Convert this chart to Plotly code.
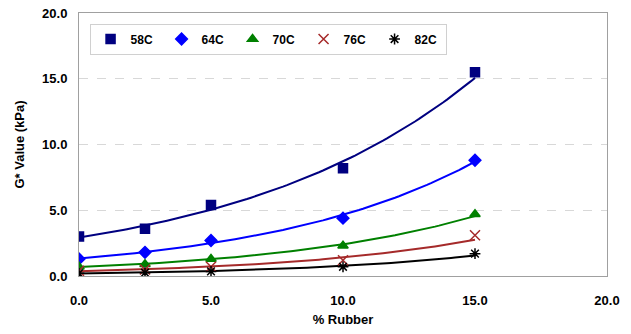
import numpy as np
import plotly.graph_objects as go

rubber = [0, 2.5, 5, 10, 15]
g58 = [3.0, 3.6, 5.4, 8.2, 15.5]
g64 = [1.3, 1.8, 2.7, 4.4, 8.8]
g70 = [0.7, 0.9, 1.3, 2.3, 4.7]
g76 = [0.4, 0.5, 0.7, 1.2, 3.1]
g82 = [0.2, 0.25, 0.35, 0.7, 1.7]

names = ["58C", "64C", "70C", "76C", "82C"]
series = [g58, g64, g70, g76, g82]
colors = ["#000080", "#0000FF", "#008000", "#A52A2A", "#000000"]
symbols = ["square", "diamond", "triangle-up", "x-thin-open", "asterisk-open"]
sizes = [9, 9, 9, 10, 9]

fig = go.Figure()
xs = np.linspace(0, 15, 100)
for name, ys, c in zip(names, series, colors):
    b, a = np.polyfit(rubber, np.log(ys), 1)
    fig.add_trace(go.Scatter(x=xs, y=np.exp(a + b * xs), mode="lines",
                             line=dict(color=c, width=2), showlegend=False,
                             hoverinfo="skip"))
for name, ys, c, s, sz in zip(names, series, colors, symbols, sizes):
    fig.add_trace(go.Scatter(x=rubber, y=ys, mode="markers", name=name,
                             marker=dict(symbol=s, color=c, size=sz,
                                         line=dict(color=c, width=1.5))))

fam = "Arial, Liberation Sans, sans-serif"
fig.update_layout(
    width=631, height=334,
    margin=dict(l=79, r=24, t=13, b=58),
    paper_bgcolor="white", plot_bgcolor="white",
    font=dict(family=fam, size=13, color="#000000"),
    legend=dict(orientation="h", x=0.02, y=0.96, xanchor="left", yanchor="top",
                bordercolor="#D0D0D0", borderwidth=1, bgcolor="white",
                font=dict(family=fam, size=12, color="#000000", weight="bold"),
                itemwidth=30, entrywidth=26, tracegroupgap=0),
    xaxis=dict(range=[0, 20], tickvals=[0, 5, 10, 15, 20], tickformat=".1f",
               showgrid=False, showline=True, linecolor="#A0A0A0", linewidth=1,
               mirror=True, ticks="", zeroline=False, ticklabelstandoff=12,
               automargin=False,
               tickfont=dict(size=13, weight="bold"),
               title=dict(text="% Rubber", font=dict(size=13, weight="bold"), standoff=8)),
    yaxis=dict(range=[0, 20], tickvals=[0, 5, 10, 15, 20], tickformat=".1f",
               showgrid=True, gridcolor="#D8D8D8", griddash="dash", gridwidth=1,
               showline=True, linecolor="#A0A0A0", linewidth=1, mirror=True,
               ticks="", zeroline=False, ticklabelstandoff=8,
               automargin=False,
               tickfont=dict(size=13, weight="bold"),
               title=dict(text="G* Value (kPa)", font=dict(size=13, weight="bold"), standoff=14)),
)
fig.write_html("out.html")
